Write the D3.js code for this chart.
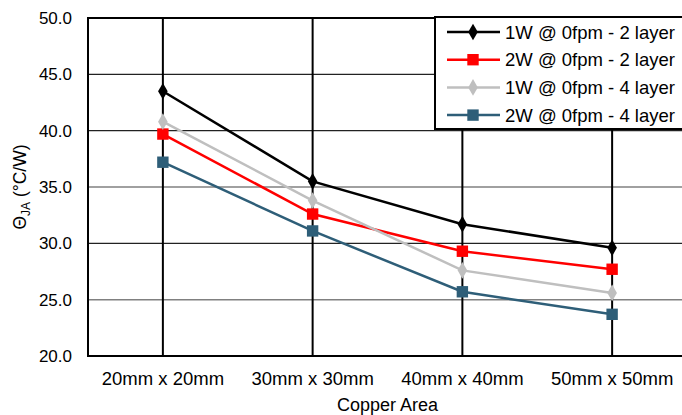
<!DOCTYPE html>
<html><head><meta charset="utf-8">
<script src="https://cdn.jsdelivr.net/npm/d3@7"></script>
<style>body{margin:0;background:#fff;} svg{display:block;font-family:"Liberation Sans",Arial,sans-serif;}</style>
</head><body>
<svg id="c" width="682" height="415"></svg>
<script>
const categories = ["20mm x 20mm","30mm x 30mm","40mm x 40mm","50mm x 50mm"];
const yTicks = [20,25,30,35,40,45,50];
const seriesNames = ["1W @ 0fpm - 2 layer","2W @ 0fpm - 2 layer","1W @ 0fpm - 4 layer","2W @ 0fpm - 4 layer"];
const s1W2L = [43.5,35.5,31.7,29.6];
const s2W2L = [39.7,32.6,29.3,27.7];
const s1W4L = [40.8,33.8,27.6,25.6];
const s2W4L = [37.2,31.1,25.7,23.7];
const seriesValues = [s1W2L,s2W2L,s1W4L,s2W4L];
const seriesColors = ["#000000","#ff0000","#bfbfbf","#2e5e78"];
const seriesMarkers = ["diamond","square","diamond","square"];

const svg = d3.select("#c");
const m = {l:88,r:687,t:18,b:356};
const x = d3.scaleBand().domain(categories).range([m.l,m.r]).paddingInner(0).paddingOuter(0);
const y = d3.scaleLinear().domain([20,50]).range([m.b,m.t]);
const cx = c => x(c)+x.bandwidth()/2;

// horizontal gridlines
svg.append("g").selectAll("line").data(yTicks.filter(t=>t>20&&t<50)).join("line")
  .attr("x1",m.l).attr("x2",m.r).attr("y1",d=>y(d)).attr("y2",d=>y(d))
  .attr("stroke",d=>(d===35||d===25)?"#808080":"#222").attr("stroke-width",d=>(d===35||d===25)?1.5:1.2);
// vertical category lines
svg.append("g").selectAll("line").data(categories).join("line")
  .attr("x1",d=>cx(d)).attr("x2",d=>cx(d)).attr("y1",m.t).attr("y2",m.b)
  .attr("stroke","#000").attr("stroke-width",2);
// frame
svg.append("line").attr("x1",m.l).attr("x2",m.r).attr("y1",m.t).attr("y2",m.t).attr("stroke","#000").attr("stroke-width",2);
svg.append("line").attr("x1",m.l).attr("x2",m.r).attr("y1",m.b).attr("y2",m.b).attr("stroke","#000").attr("stroke-width",2);
svg.append("line").attr("x1",m.l).attr("x2",m.l).attr("y1",m.t-1).attr("y2",m.b+1).attr("stroke","#000").attr("stroke-width",2);

// y axis labels
const ya = d3.axisLeft(y).tickValues(yTicks).tickFormat(d3.format(".1f")).tickSize(0).tickPadding(16);
const yg = svg.append("g").attr("transform",`translate(${m.l},0)`).call(ya);
yg.select(".domain").remove();
yg.selectAll("text").attr("font-size",17).attr("fill","#000").attr("font-family","Liberation Sans, Arial, sans-serif");

// x axis labels
const xa = d3.axisBottom(x).tickSize(0).tickPadding(16);
const xg = svg.append("g").attr("transform",`translate(0,${m.b})`).call(xa);
xg.select(".domain").remove();
xg.selectAll("text").attr("font-size",18.5).attr("fill","#000").attr("font-family","Liberation Sans, Arial, sans-serif");

// axis titles
svg.append("text").attr("x",(m.l+m.r)/2).attr("y",411).attr("text-anchor","middle").attr("font-size",18).text("Copper Area");
const yt = svg.append("text").attr("transform","translate(26,187) rotate(-90)").attr("text-anchor","middle").attr("font-size",17.5);
yt.append("tspan").text("Θ");
yt.append("tspan").attr("font-size",12).attr("dy",4).text("JA");
yt.append("tspan").attr("dy",-4).text(" (°C/W)");

const sym = (t) => t==="diamond" ? d3.symbol().type(d3.symbolDiamond).size(80)() : d3.symbol().type(d3.symbolSquare).size(130)();
const line = d3.line().x((d,i)=>cx(categories[i])).y(d=>y(d));

seriesValues.forEach((vals,si)=>{
  const g = svg.append("g");
  g.append("path").attr("d",line(vals)).attr("fill","none").attr("stroke",seriesColors[si]).attr("stroke-width",2.5);
  g.selectAll("path.m").data(vals).join("path").attr("class","m")
    .attr("d",sym(seriesMarkers[si])).attr("transform",(d,i)=>`translate(${cx(categories[i])},${y(d)})`)
    .attr("fill",seriesColors[si]);
});

// legend
const lg = svg.append("g");
lg.append("rect").attr("x",435).attr("y",17).attr("width",260).attr("height",112).attr("fill","#fff").attr("stroke","#000").attr("stroke-width",2);
seriesNames.forEach((n,i)=>{
  const yy = 32 + i*27.7;
  lg.append("line").attr("x1",447).attr("x2",500).attr("y1",yy).attr("y2",yy).attr("stroke",seriesColors[i]).attr("stroke-width",2.5);
  lg.append("path").attr("d",sym(seriesMarkers[i])).attr("transform",`translate(473,${yy})`).attr("fill",seriesColors[i]);
  lg.append("text").attr("x",505).attr("y",yy+6.5).attr("font-size",18.5).text(n);
});
</script>
</body></html>
